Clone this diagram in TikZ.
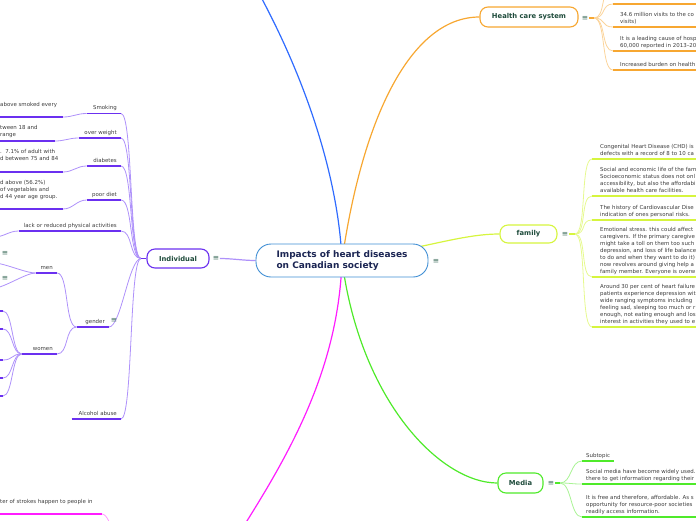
\documentclass[tikz,border=0pt]{standalone}
\usepackage{fontspec}
\setmainfont{DejaVu Sans}
\usetikzlibrary{calc, backgrounds}

\definecolor{indc}{HTML}{6B30F0}
\definecolor{indl}{HTML}{AE91FA}
\definecolor{hcsc}{HTML}{F7A731}
\definecolor{hcsl}{HTML}{FBD49B}
\definecolor{famc}{HTML}{D6F53E}
\definecolor{faml}{HTML}{E6F98F}
\definecolor{medc}{HTML}{4FEA2A}
\definecolor{medl}{HTML}{A8F393}
\definecolor{magc}{HTML}{FF1CFF}
\definecolor{magl}{HTML}{FF9BFF}
\definecolor{bluc}{HTML}{2F6BFF}
\definecolor{ctrc}{HTML}{3F8ED4}
\definecolor{ttl}{HTML}{1B2553}
\definecolor{topc}{HTML}{1E4B3B}
\definecolor{txt}{HTML}{3C3C3C}
\definecolor{menuc}{HTML}{3F6E5E}

\newcommand{\subsize}{\fontsize{5.45}{7}\selectfont}

\begin{document}
\begin{tikzpicture}[x=1pt, y=-1pt,
        topic/.style={draw=#1, fill=white, rounded corners=8pt, line width=1.1pt, inner sep=0pt,
            font=\fontsize{6.8}{8}\selectfont\bfseries, text=topc},
        sub/.style={font=\subsize, text=txt, inner ysep=1.5pt, execute at end node=\strut},
        lsub/.style={sub, anchor=south east, text width=#1, align=right, inner xsep=4pt},
        rsub/.style={sub, anchor=south west, align=left, inner xsep=#1},
        cut/.style={sub, anchor=north west, align=left, inner sep=0pt},
        menu/.style={font=\fontsize{7.5}{7.5}\selectfont, text=menuc, inner sep=0.5pt},
        bar/.style={draw=#1, line width=1.8pt},
        link/.style={draw=#1, line width=0.8pt},
        trunk/.style={draw=#1, line width=1.2pt},
        branch/.style={to path={.. controls +(#1,0) and +(-#1,0) .. (\tikztotarget)}},
        branch/.default=12,
    ]
    \useasboundingbox (0,0) rectangle (696,520);
    \coordinate (edge) at (720,0);
    \coordinate (ledge) at (-10,0);

    % Central topic
    \node[draw=ctrc, fill=white, rounded corners=15pt, line width=0.9pt, minimum width=172pt,
        minimum height=33pt, align=left, font=\fontsize{9}{11}\selectfont\bfseries, text=ttl]
        (ctr) at (342,260.5) {Impacts of heart diseases\\on Canadian society};
    \node[menu] (ctrm) at (436,261) {≡};
    \coordinate (bluex) at (240,-40);
    \coordinate (magx) at (222,560);

    % Individual
    \node[topic=indc, minimum width=62pt, minimum height=19pt] (ind) at (178,258.5) {Individual};
    \node[menu] (indm) at (216,258.5) {≡};
    \coordinate (indj) at (141,258.5);
    \node[lsub=26pt] (smk) at (121,113.5) {Smoking};
    \node[lsub=34pt] (ovw) at (121,138) {over weight};
    \node[lsub=26pt] (dia) at (121,166) {diabetes};
    \node[lsub=26pt] (diet) at (121,200) {poor diet};
    \node[lsub=94pt] (lack) at (121,231) {lack or reduced physical activities};
    \node[lsub=24pt] (gen) at (109,327) {gender};
    \node[menu] (genm) at (114,320) {≡};
    \node[lsub=13pt] (men) at (57,273) {men};
    \node[lsub=27pt] (wom) at (57,354) {women};
    \node[lsub=41pt] (alc) at (121,419) {Alcohol abuse};
    \node[cut] (smkt) at (0,101.5) {above smoked every};
    \node[cut] (ovwt) at (0,125.5) {tween 18 and\\ range};
    \node[cut] (diat) at (0,149.5) {.\ \ 7.1\% of adult with\\d between 75 and 84};
    \node[cut] (diett) at (0,180.5) {d above (56.2\%)\\of vegetables and\\d 44 year age group.};
    \coordinate (smkL) at (63,117);
    \coordinate (ovwL) at (55,141);
    \coordinate (diaL) at (63,172);
    \coordinate (dietL) at (63,209);
    \coordinate (lackL) at (-6,237);
    \coordinate (menA) at (-6,263);
    \coordinate (menB) at (-6,288);
    \node[menu] (menAm) at (5,253) {≡};
    \node[menu] (menBm) at (5,278) {≡};
    \foreach \i/\y in {1/311, 2/329, 3/360, 4/378, 5/396}
        \coordinate (w\i) at (3,\y);
    \foreach \n in {smk, ovw, dia, diet, lack, gen, men, wom, alc}
        \draw[bar=indc] (\n.south west) -- (\n.south east);
    \foreach \n in {smkL, ovwL, diaL, dietL, w1, w2, w3, w4, w5}
        \draw[bar=indc] (\n) -- (\n -| ledge);
    \draw[bar=indc] (indj) -- (ind.west);

    % Health care system
    \node[topic=hcsc, minimum width=98pt, minimum height=20pt] (hcs) at (529,17) {Health care system};
    \node[menu] (hcsm) at (585,18) {≡};
    \coordinate (hcsj) at (594,18);
    \coordinate (hc0) at (613,4);
    \coordinate (hcx) at (612,-12);
    \node[rsub=7pt] (hc1) at (613,27) {34.6 million visits to the co\\visits)};
    \node[rsub=7pt] (hc2) at (613,51) {It is a leading cause of hosp\\60,000 reported in 2013--20};
    \node[rsub=7pt] (hc3) at (613,70) {Increased burden on health};
    \draw[bar=hcsc] (hcsm.east) -- (hcsj);
    \draw[bar=hcsc] (hc0) -- (hc0 -| edge);
    \foreach \n in {hc1, hc2, hc3}
        \draw[bar=hcsc] (\n.south west) -- (\n.south west -| edge);

    % family
    \node[topic=famc, minimum width=57pt, minimum height=18pt] (fam) at (528.5,234) {family};
    \node[menu] (famm) at (565,234) {≡};
    \coordinate (famj) at (575,234);
    \node[rsub=8pt] (fa1) at (592,159) {Congenital Heart Disease (CHD) is\\defects with a record of 8 to 10 ca};
    \node[rsub=8pt] (fa2) at (592,196) {Social and economic life of the fam\\Socioeconomic status does not onl\\accessibility, but also the affordabi\\available health care facilities.};
    \node[rsub=8pt] (fa3) at (592,220) {The history of Cardiovascular Dise\\indication of ones personal risks.};
    \node[rsub=8pt] (fa4) at (592,277) {Emotional stress. this could affect\\caregivers. If the primary caregive\\might take a toll on them too such\\depression, and loss of life balance\\to do and when they want to do it)\\now revolves around giving help a\\family member. Everyone is overw};
    \node[rsub=8pt] (fa5) at (592,327) {Around 30 per cent of heart failure\\patients experience depression wit\\wide ranging symptoms including\\feeling sad, sleeping too much or r\\enough, not eating enough and los\\interest in activities they used to e};
    \draw[bar=famc] (famm.east) -- (famj);
    \foreach \n in {fa1, fa2, fa3, fa4, fa5}
        \draw[bar=famc] (\n.south west) -- (\n.south west -| edge);

    % Media
    \node[topic=medc, minimum width=45pt, minimum height=20pt] (med) at (520.5,483) {Media};
    \node[menu] (medm) at (551,483) {≡};
    \coordinate (medj) at (560,483);
    \node[rsub=4pt] (me1) at (582,461) {Subtopic};
    \node[rsub=4pt] (me2) at (582,484) {Social media have become widely used.\\there to get information regarding their};
    \node[rsub=4pt] (me3) at (582,517) {It is free and therefore, affordable. As s\\opportunity for resource-poor societies\\readily access information.};
    \draw[bar=medc] (medm.east) -- (medj);
    \draw[bar=medc] (me1.south west) -- (me1.south east);
    \foreach \n in {me2, me3}
        \draw[bar=medc] (\n.south west) -- (\n.south west -| edge);

    % Strokes (magenta)
    \node[cut] (strk) at (0,498.5) {ter of strokes happen to people in};
    \coordinate (strkL) at (102,514);
    \coordinate (strkx) at (128,560);
    \draw[bar=magc] (strkL) -- (strkL -| ledge);

    \begin{scope}[on background layer]
        % main branches
        \draw[trunk=bluc] (ctr.center) .. controls (338,170) and (300,60) .. (bluex);
        \draw[trunk=hcsc] (ctr.center) .. controls (362,120) and (410,17) .. (hcs.west);
        \draw[trunk=famc] (ctr.center) .. controls (420,250) and (460,234) .. (fam.west);
        \draw[trunk=magc] (ctr.center) .. controls (338,380) and (280,470) .. (magx);
        \draw[trunk=medc] (ctr.center) .. controls (360,400) and (440,483) .. (med.west);
        \draw[trunk=indl] (indm.east) to[branch] (ctr.west);
        % Individual
        \foreach \a/\b in {smkL/smk, ovwL/ovw, diaL/dia, dietL/diet, lackL/lack, menA/men, menB/men}
            \draw[link=indl] (\a) to[branch=10] (\b.south west);
        \foreach \i in {1,...,5}
            \draw[link=indl] (w\i) to[branch=10] (wom.south west);
        \draw[link=indl] (men.south east) to[branch] (gen.south west);
        \draw[link=indl] (wom.south east) to[branch] (gen.south west);
        \foreach \n in {smk, ovw, dia, diet, lack, gen, alc}
            \draw[link=indl] (\n.south east) to[branch] (indj);
        % Health care system
        \foreach \n in {hcx, hc0, hc1.south west, hc2.south west, hc3.south west}
            \draw[link=hcsl] (hcsj) to[branch] (\n);
        % family
        \foreach \n in {fa1, fa2, fa3, fa4, fa5}
            \draw[link=faml] (famj) to[branch] (\n.south west);
        % Media
        \foreach \n in {me1, me2, me3}
            \draw[link=medl] (medj) to[branch] (\n.south west);
        % Strokes
        \draw[link=magl] (strkL) to[branch=10] (strkx);
    \end{scope}
\end{tikzpicture}
\end{document}
